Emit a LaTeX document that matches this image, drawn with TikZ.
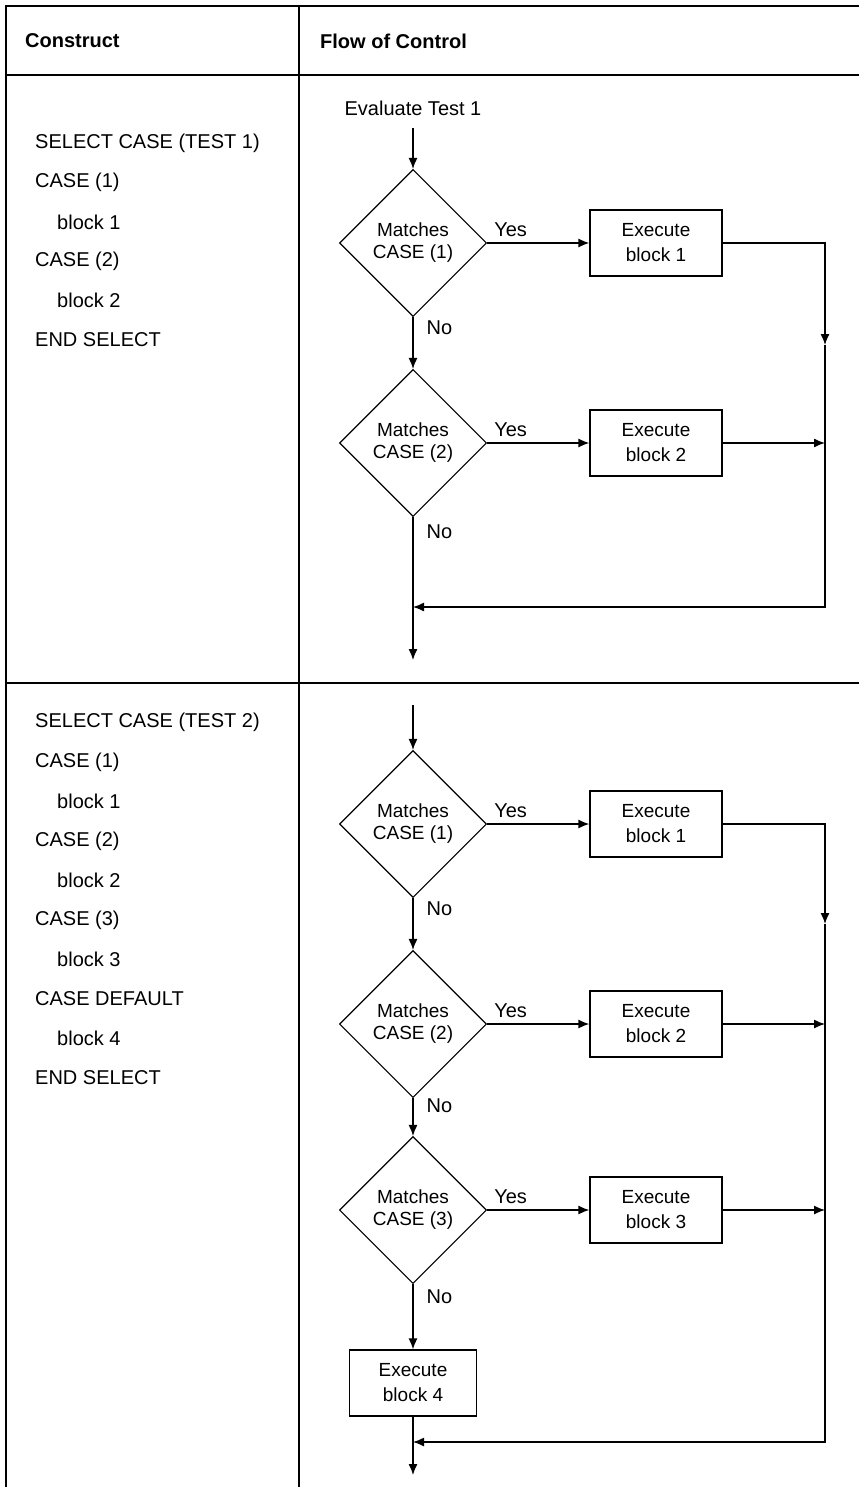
\documentclass[tikz,border=0pt]{standalone}
\usepackage{fontspec}
\setmainfont{Liberation Sans}
\usetikzlibrary{shapes.geometric, arrows.meta}

\begin{document}
\begin{tikzpicture}[
    x=1pt, y=-1pt,
    txt/.style={font=\fontsize{20}{25}\selectfont, inner sep=0pt},
    code/.style={txt, anchor=west},
    head/.style={font=\fontsize{20}{24}\selectfont\bfseries, anchor=west, inner sep=0pt},
    test/.style={draw, line width=1.1pt, diamond, aspect=1, minimum width=147pt, minimum height=147pt, inner sep=0pt, align=center, font=\fontsize{19}{22}\selectfont},
    block/.style={draw, line width=1.3pt, minimum width=132pt, minimum height=66pt, inner sep=0pt, align=center, font=\fontsize{19}{25}\selectfont},
    wire/.style={line width=1.3pt},
    flow/.style={wire, -{Latex[length=11pt,width=9pt]}},
    yes/.style={txt, above=6pt, pos=0.23},
    nolbl/.style={txt, anchor=west, pos=0.2, xshift=13pt},
    grid/.style={line width=2.4pt}
]
    \useasboundingbox (0,0) rectangle (859,1487);

    % Table
    \draw[grid] (6,1487) -- (6,6) -- (859,6);
    \draw[grid] (6,75) -- (859,75);
    \draw[grid] (6,683) -- (859,683);
    \draw[grid] (299,6) -- (299,1487);
    \node[head] (hcon) at (25,41) {Construct};
    \node[head] (hflow) at (320,41) {Flow of Control};

    % Construct, first row
    \node[code] (sel1) at (35,143) {SELECT CASE (TEST 1)};
    \node[code] (case11) at (35,182) {CASE (1)};
    \node[code] (blk11) at (57,222) {block 1};
    \node[code] (case12) at (35,261) {CASE (2)};
    \node[code] (blk12) at (57,300) {block 2};
    \node[code] (end1) at (35,340) {END SELECT};

    % Flow of control, first row
    \node[txt] (eval1) at (413,108) {Evaluate Test 1};
    \node[test] (d11) at (413,243) {Matches\\CASE (1)};
    \node[test] (d12) at (413,443) {Matches\\CASE (2)};
    \node[block] (b11) at (656,243) {Execute\\block 1};
    \node[block] (b12) at (656,443) {Execute\\block 2};
    \coordinate (r11) at (825,243);
    \coordinate (m11) at (825,345);
    \coordinate (r12) at (825,443);
    \coordinate (c1) at (825,607);
    \coordinate (e1) at (413,607);
    \coordinate (out1) at (413,660);

    \draw[flow, shorten <=12pt] (eval1) -- (d11);
    \draw[flow] (d11) -- node[yes] {Yes} (b11);
    \draw[flow] (d11) -- node[nolbl] {No} (d12);
    \draw[flow] (d12) -- node[yes] {Yes} (b12);
    \draw[flow] (d12) -- node[nolbl, pos=0.1] {No} (out1);
    \draw[flow] (b11) -- (r11) -- (m11);
    \draw[flow] (b12) -- (r12);
    \draw[flow] (m11) -- (c1) -- (e1);

    % Construct, second row
    \node[code] (sel2) at (35,722) {SELECT CASE (TEST 2)};
    \node[code] (case21) at (35,762) {CASE (1)};
    \node[code] (blk21) at (57,801) {block 1};
    \node[code] (case22) at (35,841) {CASE (2)};
    \node[code] (blk22) at (57,880) {block 2};
    \node[code] (case23) at (35,920) {CASE (3)};
    \node[code] (blk23) at (57,959) {block 3};
    \node[code] (dflt2) at (35,999) {CASE DEFAULT};
    \node[code] (blk24) at (57,1038) {block 4};
    \node[code] (end2) at (35,1078) {END SELECT};

    % Flow of control, second row
    \coordinate (in2) at (413,705);
    \node[test] (d21) at (413,824) {Matches\\CASE (1)};
    \node[test] (d22) at (413,1024) {Matches\\CASE (2)};
    \node[test] (d23) at (413,1210) {Matches\\CASE (3)};
    \node[block] (b21) at (656,824) {Execute\\block 1};
    \node[block] (b22) at (656,1024) {Execute\\block 2};
    \node[block] (b23) at (656,1210) {Execute\\block 3};
    \node[block, minimum width=127pt] (b24) at (413,1383) {Execute\\block 4};
    \coordinate (r21) at (825,824);
    \coordinate (m21) at (825,924);
    \coordinate (r22) at (825,1024);
    \coordinate (r23) at (825,1210);
    \coordinate (c2) at (825,1442);
    \coordinate (e2) at (413,1442);
    \coordinate (out2) at (413,1475);

    \draw[flow] (in2) -- (d21);
    \draw[flow] (d21) -- node[yes] {Yes} (b21);
    \draw[flow] (d21) -- node[nolbl] {No} (d22);
    \draw[flow] (d22) -- node[yes] {Yes} (b22);
    \draw[flow] (d22) -- node[nolbl] {No} (d23);
    \draw[flow] (d23) -- node[yes] {Yes} (b23);
    \draw[flow] (d23) -- node[nolbl] {No} (b24);
    \draw[flow] (b24) -- (out2);
    \draw[flow] (b21) -- (r21) -- (m21);
    \draw[flow] (b22) -- (r22);
    \draw[flow] (b23) -- (r23);
    \draw[flow] (m21) -- (c2) -- (e2);
\end{tikzpicture}
\end{document}
